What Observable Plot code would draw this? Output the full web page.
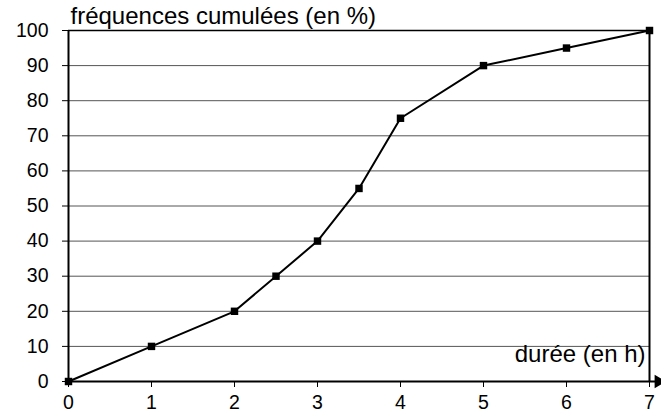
<!DOCTYPE html>
<html><head><meta charset="utf-8">
<script src="https://cdn.jsdelivr.net/npm/d3@7"></script>
<script src="https://cdn.jsdelivr.net/npm/@observablehq/plot@0.6"></script>
<style>body{margin:0;background:#fff}</style>
</head><body><div id="chart"></div>
<script>
const durees = [0, 1, 2, 2.5, 3, 3.5, 4, 5, 6, 7];
const frequences = [0, 10, 20, 30, 40, 55, 75, 90, 95, 100];
const xTicks = [0, 1, 2, 3, 4, 5, 6, 7];
const yTicks = [0, 10, 20, 30, 40, 50, 60, 70, 80, 90, 100];
const gridY = [10, 20, 30, 40, 50, 60, 70, 80, 90];
const yTitle = "fréquences cumulées (en %)";
const xTitle = "durée (en h)";

const data = durees.map((d, i) => ({x: d, y: frequences[i]}));
const font = "Liberation Sans, Arial, sans-serif";

const chart = Plot.plot({
  width: 661, height: 417,
  marginLeft: 68, marginRight: 12, marginTop: 30, marginBottom: 36,
  style: {fontFamily: font, background: "#fff", overflow: "visible"},
  x: {domain: [0, 7]},
  y: {domain: [0, 100]},
  marks: [
    Plot.ruleY(gridY, {stroke: "#555", strokeWidth: 1}),
    Plot.ruleY([100], {stroke: "#000", strokeWidth: 1.5}),
    Plot.ruleX([0], {stroke: "#000", strokeWidth: 2}),
    Plot.ruleX([7], {stroke: "#000", strokeWidth: 2}),
    Plot.ruleY([0], {x1: 0, x2: 7, stroke: "#000", strokeWidth: 2, insetRight: -6}),
    Plot.axisY(yTicks, {tickSize: 6, tickPadding: 14, fontSize: 19.5, fill: "#000", stroke: "#000", label: null}),
    Plot.axisX(xTicks, {tickSize: 6, tickPadding: 8, fontSize: 19.5, fill: "#000", stroke: "#000", label: null}),
    Plot.text([yTitle], {frameAnchor: "top-left", dx: 2, dy: -24, fontSize: 24, fill: "#000", textAnchor: "start"}),
    Plot.text([xTitle], {frameAnchor: "bottom-right", dx: -4, dy: -20, fontSize: 24, fill: "#000", textAnchor: "end"}),
    Plot.line(data, {x: "x", y: "y", stroke: "#000", strokeWidth: 2}),
    Plot.dot(data, {x: "x", y: "y", symbol: "square", r: 4.2, fill: "#000", stroke: null}),
    Plot.dot([7], {x: d => d, y: 0, symbol: "triangle", r: 5, fill: "#000", dx: 9, rotate: 90})
  ]
});
document.getElementById("chart").append(chart);
</script>
</body></html>
